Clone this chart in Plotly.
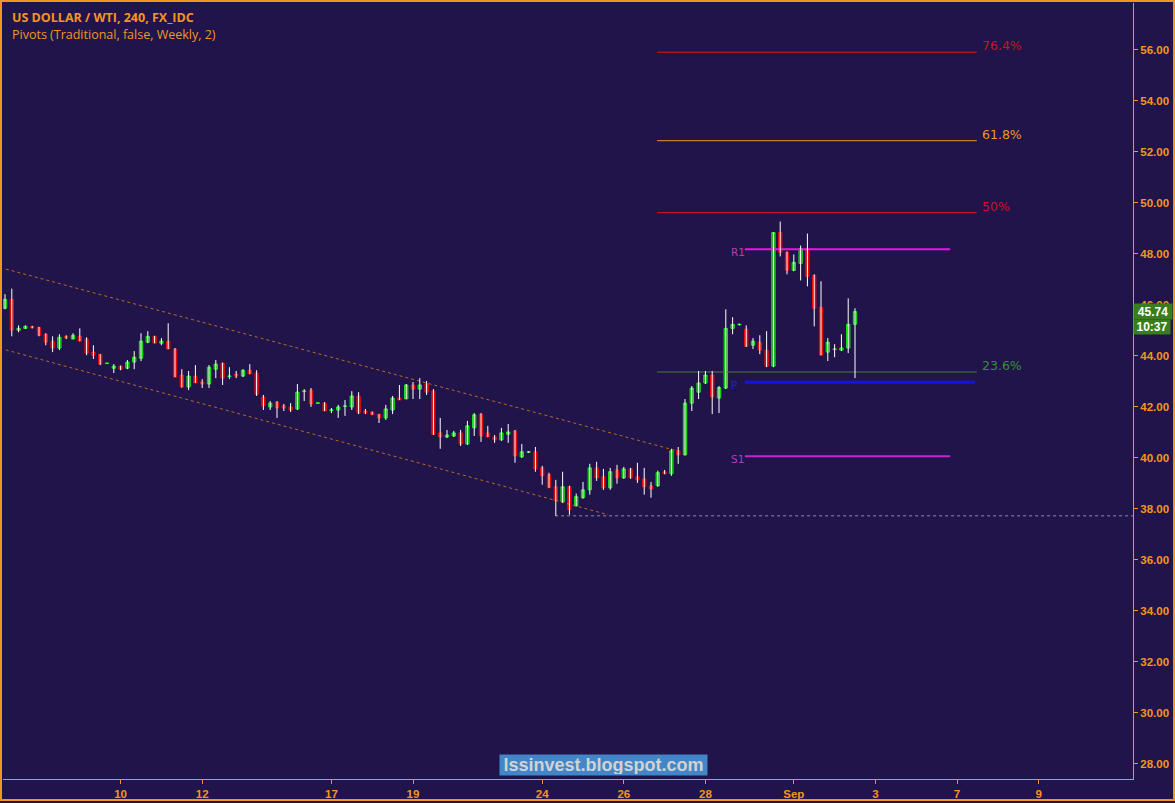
import plotly.graph_objects as go

# ---------------- data ----------------
opens = [45.87, 46.22, 45.01, 45.08, 45.16, 45.12, 44.85, 44.58, 44.31, 44.77,
         44.66, 44.77, 44.66, 44.15, 44.07, 43.70, 43.52, 43.60, 43.52, 43.76,
         43.91, 44.54, 44.77, 44.50, 44.58, 44.27, 43.25, 42.78, 43.21, 42.98,
         42.90, 43.48, 43.72, 43.19, 43.29, 43.21, 43.44, 43.33, 42.39, 42.00,
         42.19, 42.04, 42.00, 41.92, 42.60, 42.66, 42.14, 42.15, 41.86, 41.88,
         42.02, 42.00, 42.43, 41.84, 41.80, 41.72, 41.57, 41.88, 42.35, 42.31,
         42.86, 42.70, 42.90, 42.62, 40.98, 40.82, 40.86, 40.98, 40.55, 41.18,
         41.72, 40.98, 40.82, 40.71, 40.93, 41.06, 40.04, 40.22, 40.24, 39.61,
         39.34, 38.87, 38.28, 38.87, 38.12, 38.44, 38.75, 39.61, 39.26, 38.83,
         39.53, 39.22, 39.57, 39.26, 39.18, 38.91, 38.91, 39.46, 39.38, 40.28,
         40.12, 42.15, 42.58, 42.94, 43.25, 42.35, 42.74, 45.08, 45.22, 45.05,
         44.42, 44.54, 44.23, 43.60, 48.84, 48.06, 47.36, 47.63, 48.21, 47.16,
         45.91, 44.15, 44.25, 44.23, 44.31, 45.24]
highs = [46.42, 46.64, 45.20, 45.20, 45.18, 45.14, 44.89, 44.77, 44.85, 44.81,
         44.89, 45.08, 44.73, 44.42, 44.07, 43.72, 43.68, 43.62, 43.84, 44.19,
         44.89, 44.97, 44.79, 44.70, 45.28, 44.31, 43.48, 43.41, 43.64, 43.09,
         43.64, 43.84, 43.74, 43.56, 43.41, 43.48, 43.68, 43.44, 42.47, 42.23,
         42.23, 42.12, 42.15, 42.90, 42.70, 42.74, 42.16, 42.19, 41.96, 42.08,
         42.27, 42.62, 42.58, 41.92, 41.82, 41.72, 42.08, 42.43, 42.86, 42.90,
         42.98, 43.13, 43.02, 42.70, 41.57, 41.10, 41.06, 41.10, 41.45, 41.76,
         41.76, 41.26, 40.90, 41.18, 41.33, 41.10, 40.55, 40.26, 40.43, 39.69,
         39.42, 39.14, 39.46, 38.91, 38.60, 39.06, 39.77, 39.85, 39.57, 39.61,
         39.73, 39.65, 39.61, 39.81, 39.61, 39.06, 39.50, 39.53, 40.36, 40.43,
         42.31, 42.82, 43.41, 43.41, 43.41, 42.82, 45.83, 45.52, 45.26, 45.20,
         44.70, 44.81, 44.97, 48.84, 49.27, 48.10, 47.98, 48.33, 48.80, 47.20,
         46.93, 44.70, 44.46, 44.85, 46.26, 45.87]
lows = [45.83, 44.77, 44.93, 45.06, 45.08, 44.77, 44.42, 44.15, 44.23, 44.66,
        44.66, 44.58, 44.03, 43.88, 43.64, 43.70, 43.33, 43.44, 43.48, 43.48,
        43.80, 44.50, 44.50, 44.42, 44.27, 43.17, 42.76, 42.66, 42.94, 42.74,
        42.74, 43.13, 42.86, 43.09, 43.13, 43.17, 43.29, 42.43, 41.88, 41.88,
        41.57, 41.84, 41.80, 41.88, 42.23, 42.00, 42.14, 41.84, 41.76, 41.57,
        41.65, 41.88, 41.72, 41.72, 41.69, 41.37, 41.49, 41.72, 42.27, 42.31,
        42.31, 42.31, 42.47, 40.90, 40.36, 40.78, 40.82, 40.47, 40.51, 40.86,
        40.63, 40.82, 40.59, 40.67, 40.59, 39.81, 40.00, 40.20, 39.46, 38.95,
        38.83, 37.73, 38.24, 37.77, 38.10, 38.40, 38.56, 39.10, 38.75, 38.75,
        38.99, 39.18, 39.18, 39.02, 38.56, 38.44, 38.87, 39.36, 39.30, 39.77,
        40.10, 41.84, 42.31, 42.90, 41.72, 41.76, 42.70, 44.85, 45.20, 44.35,
        44.27, 44.07, 43.56, 43.56, 47.90, 47.20, 47.32, 46.96, 46.73, 45.16,
        44.03, 43.80, 43.95, 44.19, 44.11, 43.13]
closes = [46.22, 45.02, 45.08, 45.16, 45.10, 44.81, 44.54, 44.31, 44.73, 44.70,
          44.81, 44.58, 44.11, 44.03, 43.68, 43.72, 43.60, 43.48, 43.76, 43.95,
          44.58, 44.77, 44.50, 44.58, 44.27, 43.17, 42.78, 43.21, 42.94, 42.90,
          43.56, 43.68, 43.13, 43.21, 43.21, 43.44, 43.29, 42.50, 42.04, 42.15,
          41.96, 41.96, 41.88, 42.58, 42.62, 42.12, 42.16, 41.84, 41.88, 42.00,
          42.04, 42.43, 41.76, 41.76, 41.69, 41.57, 41.92, 42.35, 42.27, 42.86,
          42.70, 42.86, 42.58, 40.93, 40.82, 40.90, 40.98, 40.55, 41.26, 41.69,
          40.86, 40.82, 40.71, 40.98, 41.02, 40.08, 40.24, 40.24, 39.57, 39.30,
          38.83, 38.32, 38.87, 37.97, 38.48, 38.75, 39.61, 39.22, 38.83, 39.46,
          39.22, 39.57, 39.22, 39.14, 38.87, 38.79, 39.42, 39.38, 40.28, 40.12,
          42.15, 42.74, 42.94, 43.25, 42.39, 42.76, 45.08, 45.24, 45.24, 44.38,
          44.58, 44.23, 43.60, 48.84, 48.06, 47.36, 47.67, 48.21, 47.12, 45.87,
          44.03, 44.54, 44.27, 44.31, 45.24, 45.74]

# date ticks (bar index where each day starts) and their labels
tick_index = [17, 29, 48, 60, 79, 91, 103, 116, 128, 140, 152]
tick_labels = ["10", "12", "17", "19", "24", "26", "28", "Sep", "3", "7", "9"]
price_ticks = [28, 30, 32, 34, 36, 38, 40, 42, 44, 46, 48, 50, 52, 54, 56]

# fibonacci levels
fib_labels = ["76.4%", "61.8%", "50%", "23.6%"]
fib_levels = [55.91, 52.44, 49.62, 43.37]
fib_span = [95.9, 142.9]

# weekly pivots
pivot_names = ["R1", "P", "S1"]
pivot_levels = [48.18, 42.97, 40.07]
pivot_ends = [139.0, 142.6, 139.0]
pivot_start = 108.8

# channel lines (start index, start price, end index, end price)
channel_upper = [(-0.74, 47.47), (98.8, 40.28)]
channel_lower = [(-0.74, 44.30), (88.7, 37.77)]
low_line = [(80.9, 37.73), (170.0, 37.73)]

last_time = "10:37"

# ---------------- styling ----------------
BG = "#20144a"
ORANGE = "#f7941d"
XR = [-0.294, 165.88]
YR = [27.41, 57.84]

idx = list(range(len(opens)))

fig = go.Figure()

def add_line(x, y, color, width, dash="solid"):
    fig.add_trace(go.Scatter(x=x, y=y, mode="lines", hoverinfo="skip",
                             line=dict(color=color, width=width, dash=dash),
                             showlegend=False))

# channel + low line
add_line([p[0] for p in channel_upper], [p[1] for p in channel_upper], "#b86a22", 1, "dot")
add_line([p[0] for p in channel_lower], [p[1] for p in channel_lower], "#b86a22", 1, "dot")
add_line([p[0] for p in low_line], [p[1] for p in low_line], "#8c8ca0", 1, "dot")

# fib lines
fib_line_colors = ["#f01010", "#f0961e", "#e01414", "#4a7a3a"]
fib_text_colors = ["#c8141e", "#f0961e", "#c8141e", "#3c8c3c"]
for lv, col in zip(fib_levels, fib_line_colors):
    add_line(fib_span, [lv, lv], col, 1)

# pivots
pivot_colors = ["#ee10ee", "#1414dd", "#cc22cc"]
pivot_widths = [2, 3, 2]
for lv, end, col, w in zip(pivot_levels, pivot_ends, pivot_colors, pivot_widths):
    add_line([pivot_start, end], [lv, lv], col, w)

# wicks (white)
wx, wy = [], []
for i, h, l in zip(idx, highs, lows):
    wx += [i, i, None]
    wy += [h, l, None]
add_line(wx, wy, "#ffffff", 1)

# bodies
body_hi = [max(o, c) for o, c in zip(opens, closes)]
body_lo = [min(o, c) for o, c in zip(opens, closes)]
fig.add_trace(go.Candlestick(
    x=idx, open=opens, high=body_hi, low=body_lo, close=closes,
    increasing=dict(fillcolor="#239a23", line=dict(color="#14e614", width=1)),
    decreasing=dict(fillcolor="#d00606", line=dict(color="#e80c0c", width=1)),
    whiskerwidth=0, hoverinfo="skip", showlegend=False))

W, H = 1175, 803
ML, MR, MT, MB = 3, 42, 3, 22
PW, PH = W - ML - MR, H - MT - MB

def px(xp):
    return (xp - ML) / PW

def py(yp):
    return (H - MB - yp) / PH

ann = []
ann.append(dict(text="US DOLLAR / WTI, 240, FX_IDC", xref="paper", yref="paper",
                x=px(10), y=py(18), xanchor="left", yanchor="middle", showarrow=False,
                font=dict(family="Open Sans", size=12.5, color=ORANGE, weight="bold")))
ann.append(dict(text="Pivots (Traditional, false, Weekly, 2)", xref="paper", yref="paper",
                x=px(10), y=py(35), xanchor="left", yanchor="middle", showarrow=False,
                font=dict(family="Open Sans", size=12.5, color=ORANGE)))
for lab, lv, col in zip(fib_labels, fib_levels, fib_text_colors):
    ann.append(dict(text=lab, x=143.4, y=lv, xref="x", yref="y", xanchor="left",
                    yanchor="bottom", yshift=-3, showarrow=False,
                    font=dict(family="DejaVu Sans", size=12.5, color=col)))
pivot_text_colors = ["#b43cb4", "#2020e0", "#b43cb4"]
for lab, lv, col in zip(pivot_names, pivot_levels, pivot_text_colors):
    ann.append(dict(text=lab, x=106.4, y=lv, xref="x", yref="y", xanchor="left",
                    yanchor="middle", yshift=-3, showarrow=False,
                    font=dict(family="DejaVu Sans", size=10.5, color=col)))
# watermark
ann.append(dict(text="<b>lssinvest.blogspot.com</b>", xref="paper", yref="paper",
                x=px(603.5), y=py(767), xanchor="center", yanchor="middle",
                showarrow=False, bgcolor="#4386c8", width=205, height=18, borderpad=1,
                font=dict(family="Liberation Sans Narrow, Liberation Sans", size=18, color="#d2d2d2")))
# last price / time boxes
ann.append(dict(text="<b>%.2f</b>" % closes[-1], xref="paper", yref="y",
                x=1.0, y=closes[-1], xanchor="left", yanchor="middle", showarrow=False,
                bgcolor="#3a7d1e", width=36, height=13, borderpad=1,
                font=dict(family="Liberation Sans", size=12, color="#ffffff")))
ann.append(dict(text="<b>%s</b>" % last_time, xref="paper", yref="paper",
                x=1.0, y=py(328), xanchor="left", yanchor="middle", showarrow=False,
                bgcolor="#3a7d1e", width=34, height=12, borderpad=1,
                font=dict(family="Liberation Sans", size=12, color="#ffffff")))

axis_font = dict(family="Liberation Sans Narrow, Liberation Sans", size=11.5,
                 color=ORANGE, weight="bold")

fig.update_layout(
    width=W, height=H, autosize=False,
    margin=dict(l=ML, r=MR, t=MT, b=MB, pad=0),
    paper_bgcolor=BG, plot_bgcolor=BG,
    showlegend=False, hovermode=False,
    annotations=ann,
    xaxis=dict(range=XR, tickvals=tick_index, ticktext=tick_labels,
               showgrid=False, zeroline=False, showline=True, linecolor=ORANGE,
               linewidth=1, ticks="outside", ticklen=4, tickcolor=ORANGE,
               tickfont=axis_font, rangeslider=dict(visible=False), fixedrange=True),
    yaxis=dict(range=YR, side="right", tickvals=price_ticks, tickformat=".2f",
               showgrid=False, zeroline=False, showline=True, linecolor=ORANGE,
               linewidth=1, ticks="outside", ticklen=4, tickcolor=ORANGE,
               tickfont=axis_font, fixedrange=True),
    shapes=[dict(type="rect", xref="paper", yref="paper",
                 x0=px(1), x1=px(W - 1), y0=py(H - 1), y1=py(1),
                 line=dict(color=ORANGE, width=2), fillcolor="rgba(0,0,0,0)")],
)

fig.write_html("out.html", config={"displayModeBar": False},
               post_script="document.body.style.margin='0';document.body.style.overflow='hidden';")
